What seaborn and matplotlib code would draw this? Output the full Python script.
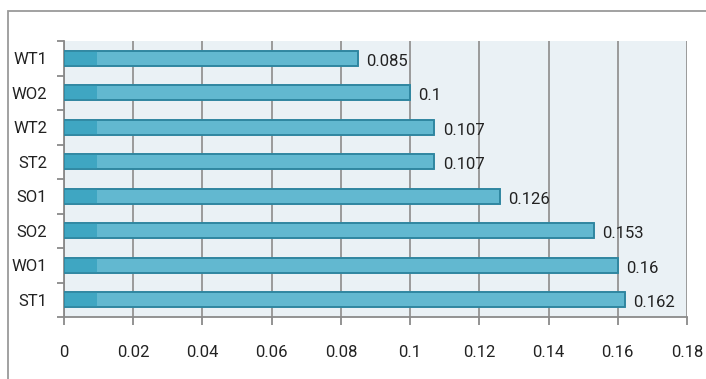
import matplotlib
matplotlib.use("Agg")
import matplotlib.pyplot as plt
from matplotlib.patches import Rectangle
import seaborn as sns
import pandas as pd
import numpy as np

categories = ["WT1", "WO2", "WT2", "ST2", "SO1", "SO2", "WO1", "ST1"]
values = [0.085, 0.1, 0.107, 0.107, 0.126, 0.153, 0.16, 0.162]
value_labels = ["0.085", "0.1", "0.107", "0.107", "0.126", "0.153", "0.16", "0.162"]
x_ticks = [0, 0.02, 0.04, 0.06, 0.08, 0.1, 0.12, 0.14, 0.16, 0.18]
x_tick_labels = ["0", "0.02", "0.04", "0.06", "0.08", "0.1", "0.12", "0.14", "0.16", "0.18"]

sns.set_theme(style="white")
plt.rcParams['font.family'] = ['Roboto', 'DejaVu Sans']

df = pd.DataFrame({"cat": categories, "val": values})

fig = plt.figure(figsize=(7.06, 3.79), dpi=100)
fig.patch.set_facecolor("white")
# outer frame (partially visible)
fig.add_artist(Rectangle((8/706, -0.1), 1.2, 1 - 11/379 + 0.1, transform=fig.transFigure,
                         fill=False, edgecolor="#9a9a9a", linewidth=1.3))

ax = fig.add_axes([64/706, 62/379, (687-64)/706, (338-62)/379])
ax.set_facecolor("#eaf1f5")

sns.barplot(data=df, y="cat", x="val", orient="h", ax=ax, color="#62b8d0",
            edgecolor="#2f86a0", linewidth=1.2, width=0.43, saturation=1, zorder=3)

# darker left segment on each bar (style effect)
for p in ax.patches:
    y0, h = p.get_y(), p.get_height()
    ax.add_patch(Rectangle((0, y0), 0.0095, h, facecolor="#3fa6c2", edgecolor="none",
                           zorder=3.5))
    ax.add_patch(Rectangle((p.get_x(), y0), p.get_width(), h, fill=False,
                           edgecolor="#2f86a0", linewidth=1.2, zorder=3.6))

for i, (v, lab) in enumerate(zip(values, value_labels)):
    ax.annotate(lab, (v, i), xytext=(6, -2), textcoords="offset points",
                va="center", ha="left", fontsize=12, color="#222222", zorder=5)

ax.set_xlim(0, 0.18)
ax.set_ylim(len(categories) - 0.5, -0.5)
ax.set_xticks(x_ticks)
ax.set_xticklabels(x_tick_labels, fontsize=12, color="#222222")
ax.set_yticks(range(len(categories)))
ax.set_yticklabels(categories, fontsize=12, color="#222222")
ax.set_yticks(np.arange(-0.5, len(categories), 1.0), minor=True)
ax.tick_params(axis="y", which="major", length=0, pad=12)
ax.tick_params(axis="y", which="minor", length=5, width=1.3, color="#8a8a8a", left=True)
ax.tick_params(axis="x", which="major", length=6, width=1.3, color="#8a8a8a", bottom=True, pad=14)
ax.set_xlabel("")
ax.set_ylabel("")

ax.grid(axis="x", color="#9a9a9a", linewidth=1.4, zorder=1)
ax.set_axisbelow(True)
for s in ["top", "right"]:
    ax.spines[s].set_visible(False)
ax.spines["left"].set_color("#8a8a8a")
ax.spines["left"].set_linewidth(1.3)
ax.spines["bottom"].set_color("#8a8a8a")
ax.spines["bottom"].set_linewidth(1.3)

fig.savefig("out.png", dpi=100)
